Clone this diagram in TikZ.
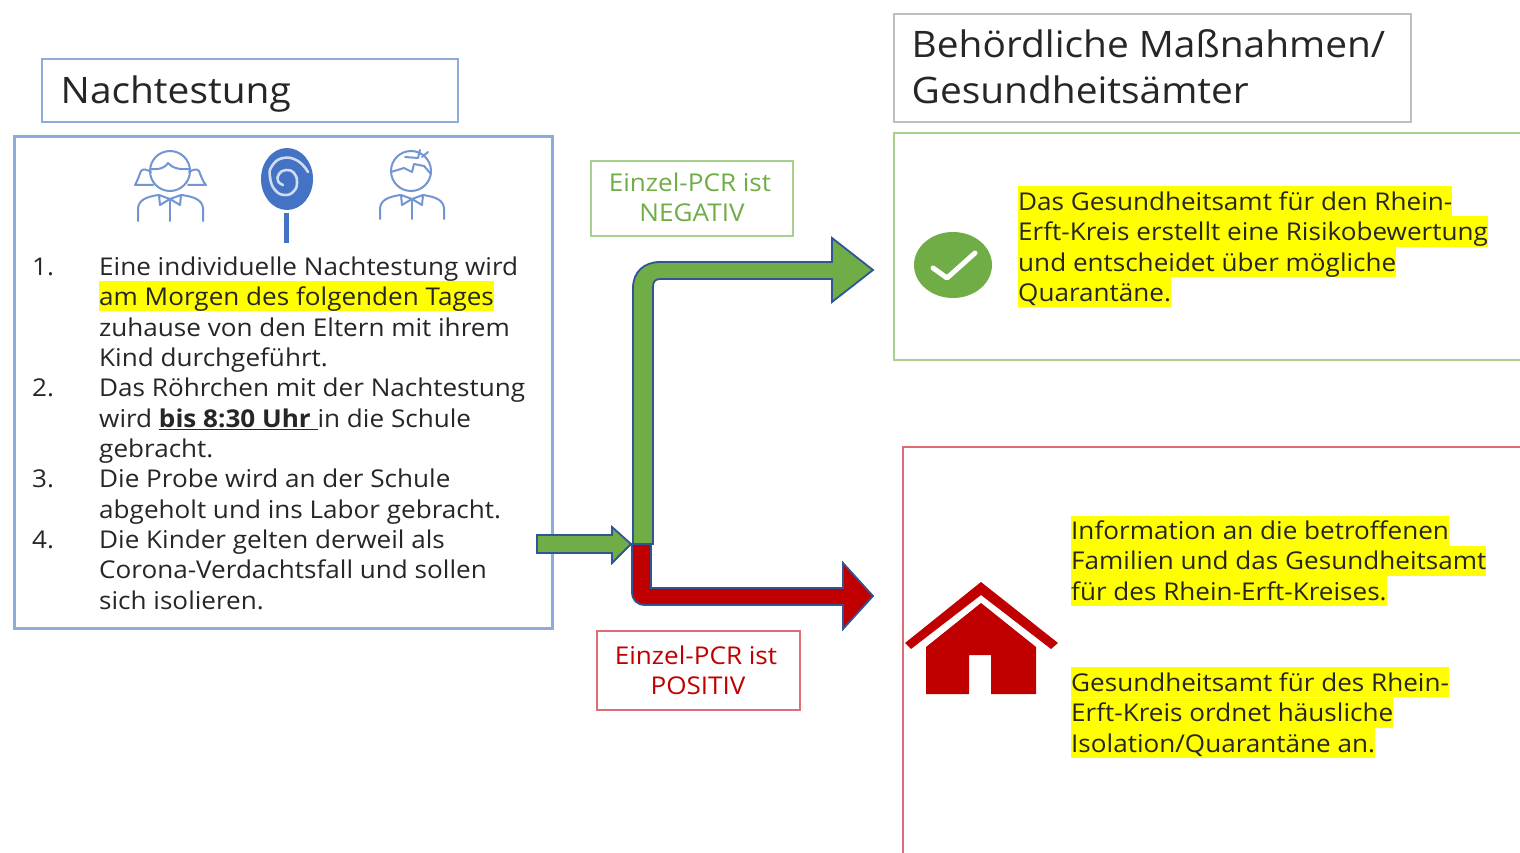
\documentclass[tikz,border=0pt]{standalone}
\usepackage{fontspec}
\setmainfont[FakeStretch=1.065]{Open Sans}
\definecolor{ink}{HTML}{262626}
\definecolor{bluebox}{HTML}{8FAADC}
\definecolor{iconblue}{HTML}{4472C4}
\definecolor{grn}{HTML}{70AD47}
\definecolor{grnline}{HTML}{A9D18E}
\definecolor{rd}{HTML}{C00000}
\definecolor{rdline}{HTML}{E06C75}
\definecolor{arrowline}{HTML}{2F5597}
\definecolor{hl}{HTML}{FFFF00}
\tikzset{
  x=1pt,y=-1pt,
  line/.style={anchor=base west,inner xsep=0pt,inner ysep=0pt,text=ink,font=\fontsize{24.5}{24.5}\selectfont,text height=24pt,text depth=6pt},
  hline/.style={line,fill=hl},
  title/.style={anchor=base west,inner sep=0pt,text=ink,font=\fontsize{36.5}{36.5}\selectfont},
  plabel/.style={anchor=base,inner sep=0pt,font=\fontsize{24.5}{24.5}\selectfont},
  framebox/.style={line width=1.6pt,outer sep=0pt,inner sep=0pt,anchor=north west},
  blockarrow/.style={draw=arrowline,line width=1.8pt,line join=miter},
  icon/.style={draw=iconblue!75,line width=2pt,line cap=round,line join=round},
}
\begin{document}
\begin{tikzpicture}
\useasboundingbox (0,0) rectangle (1520,853);
\fill[white] (0,0) rectangle (1520,853);
% frames
\node[draw=bluebox,framebox,minimum width=416pt,minimum height=63pt] (nt) at (42,59) {};
\node[draw=bluebox,framebox,line width=3pt,minimum width=538pt,minimum height=491pt] (steps) at (14,137) {};
\node[draw=black!25,framebox,minimum width=517pt,minimum height=108pt] (ba) at (894,14) {};
\draw[grnline,line width=1.6pt] (1525,133) -- (894,133) -- (894,360) -- (1525,360);
\draw[rdline,line width=1.6pt] (1525,447) -- (903,447) -- (903,858);
\node[draw=grnline,framebox,minimum width=202pt,minimum height=75pt] (neg) at (591,161) {};
\node[draw=rdline,framebox,minimum width=203pt,minimum height=79pt] (pos) at (597,631) {};
% titles
\node[title] (t1) at (60.5,104) {Nachtestung};
\node[title] (t2) at (911.5,58) {Behördliche Maßnahmen/};
\node[title] (t3) at (911.5,104) {Gesundheitsämter};
% pcr labels
\node[plabel,text=grn] (n1) at (690,192) {Einzel-PCR ist};
\node[plabel,text=grn] (n2) at (692,222) {NEGATIV};
\node[plabel,text=rd] (p1) at (696,664) {Einzel-PCR ist};
\node[plabel,text=rd] (p2) at (698,694) {POSITIV};
% list
\node[line] (a1) at (32,275) {1.};
\node[line] (a2) at (99,275) {Eine individuelle Nachtestung wird};
\node[hline] (a3) at (99,305) {am Morgen des folgenden Tages};
\node[line] (a4) at (99,336) {zuhause von den Eltern mit ihrem};
\node[line] (a5) at (99,366) {Kind durchgeführt.};
\node[line] (b1) at (32,396) {2.};
\node[line] (b2) at (99,396) {Das Röhrchen mit der Nachtestung};
\node[line] (b3) at (99,427) {wird \underline{\textbf{bis 8:30 Uhr }}in die Schule};
\node[line] (b4) at (99,457) {gebracht.};
\node[line] (c1) at (32,487) {3.};
\node[line] (c2) at (99,487) {Die Probe wird an der Schule};
\node[line] (c3) at (99,518) {abgeholt und ins Labor gebracht.};
\node[line] (d1) at (32,548) {4.};
\node[line] (d2) at (99,548) {Die Kinder gelten derweil als};
\node[line] (d3) at (99,578) {Corona-Verdachtsfall und sollen};
\node[line] (d4) at (99,609) {sich isolieren.};
% right texts
\node[hline] (e1) at (1018,210.5) {Das Gesundheitsamt für den Rhein-};
\node[hline] (e2) at (1018,240.5) {Erft-Kreis erstellt eine Risikobewertung};
\node[hline] (e3) at (1018,271) {und entscheidet über mögliche};
\node[hline] (e4) at (1018,301) {Quarantäne.};
\node[hline] (f1) at (1071,539.5) {Information an die betroffenen};
\node[hline] (f2) at (1071,569.5) {Familien und das Gesundheitsamt};
\node[hline] (f3) at (1071,600) {für des Rhein-Erft-Kreises.};
\node[hline] (g1) at (1071,691) {Gesundheitsamt für des Rhein-};
\node[hline] (g2) at (1071,721.5) {Erft-Kreis ordnet häusliche};
\node[hline] (g3) at (1071,752) {Isolation/Quarantäne an.};
% block arrows
\draw[blockarrow,fill=rd]
  (632,544) -- (632,592) .. controls (632,600) and (637,605) .. (645,605) -- (843,605) -- (843,629) -- (873,596) -- (843,563) -- (843,588) -- (651,588) -- (651,544) -- cycle;
\draw[blockarrow,fill=grn]
  (633,544) -- (633,288) .. controls (633,272) and (644,262) .. (660,262) -- (832,262) -- (832,238) -- (873,270) -- (832,302) -- (832,279) -- (660,279) .. controls (655,279) and (653,282) .. (653,287) -- (653,544) -- cycle;
\draw[blockarrow,fill=grn]
  (537,535) -- (612,535) -- (612,527) -- (631,544) -- (612,563) -- (612,553) -- (537,553) -- cycle;
% check
\fill[grn] (953,265) ellipse[x radius=39,y radius=33];
\draw[white,line width=5pt,line cap=round,line join=round] (933,268) -- (947,278) -- (975,253);
% house
\fill[rd] (981,582) -- (1058,643) -- (1051,649) -- (981,595) -- (911,649) -- (905,643) -- cycle;
\fill[rd] (981,603) -- (1036,647) -- (1036,694) -- (991,694) -- (991,655) -- (969,655) -- (969,694) -- (926,694) -- (926,647) -- cycle;
% lollipop
\fill[iconblue] (287,179) ellipse[x radius=26,y radius=31];
\draw[white!75!iconblue,line width=2.6pt,line cap=round] plot[smooth,tension=0.8] coordinates {(308,172) (298,161) (283,158) (272,166) (270,177) (275,190) (285,195) (294,191) (297,182) (294,173) (286,170) (279,174) (278,181) (283,185)};
\draw[iconblue,line width=5pt] (286,213) -- (286,243);
% girl
\draw[icon] (170,171) circle[radius=20];
\draw[icon] (151,169) .. controls (160,170) and (166,167) .. (168,163) .. controls (172,168) and (180,170) .. (189,169);
\draw[icon] (151,172) .. controls (148,170) and (143,168) .. (141,171) .. controls (139,176) and (137,182) .. (135,185) -- (153,185);
\draw[icon] (189,172) .. controls (192,170) and (197,168) .. (199,171) .. controls (201,176) and (203,182) .. (206,185) -- (188,185);
\draw[icon] (138,221) -- (138,208) .. controls (139,200) and (146,197) .. (158,195);
\draw[icon] (203,221) -- (203,208) .. controls (202,200) and (195,197) .. (182,195);
\draw[icon] (170,199) -- (170,221);
\draw[icon] (170,199) -- (159,195) -- (160,205) -- cycle;
\draw[icon] (170,199) -- (181,195) -- (180,205) -- cycle;
% boy
\draw[icon] (411,171) circle[radius=20];
\draw[icon] (391,172) -- (404,168) -- (412,172) -- (414,164) -- (424,166) -- (431,174);
\draw[icon] (405,157) -- (418,158) -- (420,150);
\draw[icon] (422,157) -- (428,152);
\draw[icon] (380,219) -- (380,208) .. controls (381,200) and (388,197) .. (400,195);
\draw[icon] (444,219) -- (444,208) .. controls (443,200) and (436,197) .. (423,195);
\draw[icon] (412,199) -- (412,219);
\draw[icon] (412,199) -- (401,195) -- (402,205) -- cycle;
\draw[icon] (412,199) -- (423,195) -- (422,205) -- cycle;
\end{tikzpicture}
\end{document}
